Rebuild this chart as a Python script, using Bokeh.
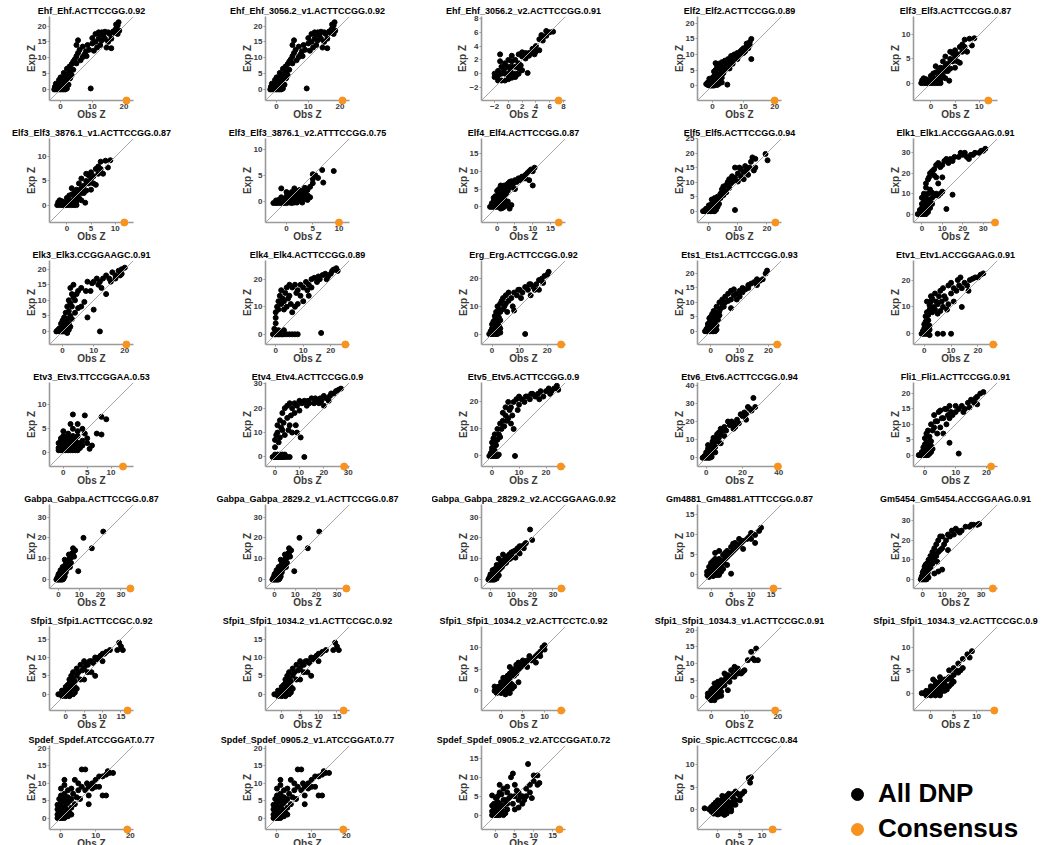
import math
from bokeh.plotting import figure
from bokeh.layouts import column, row
from bokeh.models import Slope, FixedTicker, Range1d, Legend, LegendItem
from bokeh.embed import file_html
from bokeh.resources import INLINE

FONT = "Liberation Sans"

# ---------------- data ----------------
titles = [
    "Ehf_Ehf.ACTTCCGG.0.92", "Ehf_Ehf_3056.2_v1.ACTTCCGG.0.92", "Ehf_Ehf_3056.2_v2.ACTTCCGG.0.91",
    "Elf2_Elf2.ACTTCCGG.0.89", "Elf3_Elf3.ACTTCCGG.0.87",
    "Elf3_Elf3_3876.1_v1.ACTTCCGG.0.87", "Elf3_Elf3_3876.1_v2.ATTTCCGG.0.75", "Elf4_Elf4.ACTTCCGG.0.87",
    "Elf5_Elf5.ACTTCCGG.0.94", "Elk1_Elk1.ACCGGAAG.0.91",
    "Elk3_Elk3.CCGGAAGC.0.91", "Elk4_Elk4.ACTTCCGG.0.89", "Erg_Erg.ACTTCCGG.0.92",
    "Ets1_Ets1.ACTTCCGG.0.93", "Etv1_Etv1.ACCGGAAG.0.91",
    "Etv3_Etv3.TTCCGGAA.0.53", "Etv4_Etv4.ACTTCCGG.0.9", "Etv5_Etv5.ACTTCCGG.0.9",
    "Etv6_Etv6.ACTTCCGG.0.94", "Fli1_Fli1.ACTTCCGG.0.91",
    "Gabpa_Gabpa.ACTTCCGG.0.87", "Gabpa_Gabpa_2829.2_v1.ACTTCCGG.0.87", "Gabpa_Gabpa_2829.2_v2.ACCGGAAG.0.92",
    "Gm4881_Gm4881.ATTTCCGG.0.87", "Gm5454_Gm5454.ACCGGAAG.0.91",
    "Sfpi1_Sfpi1.ACTTCCGC.0.92", "Sfpi1_Sfpi1_1034.2_v1.ACTTCCGC.0.92", "Sfpi1_Sfpi1_1034.2_v2.ACTTCCTC.0.92",
    "Sfpi1_Sfpi1_1034.3_v1.ACTTCCGC.0.91", "Sfpi1_Sfpi1_1034.3_v2.ACTTCCGC.0.9",
    "Spdef_Spdef.ATCCGGAT.0.77", "Spdef_Spdef_0905.2_v1.ATCCGGAT.0.77", "Spdef_Spdef_0905.2_v2.ATCCGGAT.0.72",
    "Spic_Spic.ACTTCCGC.0.84",
]

consensus = [20.8, 20.8, 7.3, 20.0, 11.9,
             11.9, 10.0, 17.3, 22.9, 35.8,
             20.5, 25.3, 25.0, 23.0, 25.7,
             12.5, 28.3, 25.5, 39.5, 21.5,
             34.5, 34.5, 34.0, 15.6, 36.0,
             16.8, 16.8, 13.8, 19.2, 13.9,
             19.1, 19.1, 16.8, 12.4]

lims_lo = [-3.5, -3.5, -3.9, -4.8, -3.6,
           -3.6, -4.0, -4.4, -3.9, -4.1,
           -4.2, -3.7, -3.8, -4.6, -4.0,
           -2.9, -3.9, -3.9, -4.8, -3.7,
           -4.3, -4.3, -4.3, -3.4, -4.7,
           -4.4, -4.4, -4.5, -4.1, -3.8,
           -3.3, -3.3, -3.8, -4.6]
lims_hi = [23.0, 23.0, 8.3, 22.2, 13.8,
           13.8, 12.0, 19.2, 25.0, 37.0,
           22.8, 26.8, 26.6, 24.5, 27.3,
           14.7, 30.5, 27.2, 41.5, 23.6,
           36.0, 36.0, 36.0, 17.6, 38.4,
           18.4, 18.4, 14.8, 21.1, 14.6,
           20.9, 20.9, 18.4, 14.4]

x_step = [10, 10, 2, 10, 5, 5, 5, 5, 10, 10, 10, 10, 10, 10, 10, 5, 10, 10, 20, 10,
          10, 10, 10, 5, 10, 5, 5, 5, 10, 5, 10, 10, 5, 5]
y_step = [5, 5, 2, 5, 5, 5, 5, 5, 5, 10, 5, 10, 10, 5, 10, 5, 10, 10, 10, 5,
          10, 10, 10, 5, 10, 5, 5, 5, 5, 5, 5, 5, 5, 5]

ehf = [(-2,0),(-1.5,0),(-1,0),(-0.5,0),(0,0),(0.5,0),(1,0),(1.5,0),(2,0.3),(-1.8,0.8),(-1,0.8),(-0.5,0.5),(0,1),(0.5,1.5),(1,1),(1.5,2),(2,1.2),(2.5,1.5),(-1.5,1.8),(-0.8,1.8),(0,2.5),(0.5,3),(1,3.5),(1.5,4),(2,3.2),(2.5,5),(0,3.8),(1,5.2),(-0.5,3),(3,3.5),(3,5.5),(3.5,4.5),(2,6.5),(2.8,7.2),(3.5,8),(4,6.2),(4,8.8),(4.5,9.5),(5,8.2),(5,10.5),(5.5,11.5),(5.5,15.5),(5,14),(6,12.5),(6.3,9.2),(7,10.2),(7,13.5),(7.5,11),(8,12),(8.5,14),(8.2,10.5),(9,12.5),(9.5,0.3),(10,14.5),(10,16.2),(10.5,12.2),(11,15),(11,17.5),(12,16),(12,18),(12.5,14),(13,15.5),(13,18),(14,16),(14,18.2),(14.5,13.2),(15,15),(15,18),(16,13),(16,16),(16.5,18.2),(17,18.5),(17.5,19.2),(18,17.5),(18,20.2),(18.3,21.2),(17.5,20.5),(13.5,17),(11.5,13.2),(12.5,17.2),(15.5,17.5),(17,17.8),(18.5,18.5)]
ehf_v2 = [(-2,-0.5),(-1.5,-1),(-1,-1),(-0.5,-1),(0,-0.8),(0.5,-0.6),(1,-0.5),(-2,0),(-1.5,0.4),(-1,0),(-0.5,0),(0,0),(0.5,0),(1,0),(1.5,0),(-1,1),(-0.5,1.5),(0,1),(0.5,1),(1,1),(1.5,0.8),(2,0.5),(0,2),(0.5,1.8),(1,2),(-0.5,0.8),(0,-0.3),(1.2,-0.2),(1.5,1.5),(-1.5,-0.3),(-0.8,0.3),(0.3,0.5),(-1.2,1.8),(0.5,2.6),(1.5,2.8),(2,2.5),(2.5,3),(3,3),(3.5,3),(2,3.1),(3,2.6),(4,3.2),(4.5,3.4),(3.5,3.6),(4,4),(4.5,5),(5,5.2),(5.5,5.5),(5,4.8),(6,6),(6.5,6.1),(5.5,6.2),(4.8,5.6),(2.8,0.1),(-1.2,2.8),(1.8,1.2),(2.5,2.2),(3.8,2.8)]
elf2 = [(-2,0.5),(-1.5,0.2),(-1,0),(-0.5,0),(0,0),(0.5,0),(1,0.3),(1.5,0.2),(2,0.5),(-1.5,1),(-1,1.2),(-0.5,0.8),(0,1.5),(0.5,1.2),(1,1.5),(1.5,1.8),(2,2),(2.5,1.5),(3,1),(-1,2.2),(0,2.5),(0.5,3),(1,3.5),(1.5,3),(2,3.8),(2.5,3),(3,3.5),(0.5,4.5),(1,5),(1.5,6),(2,5.5),(2.5,6.5),(3,5),(3.5,6),(1,7.2),(2,7),(3,7.5),(3.5,4),(4,5),(4.5,7),(4,8),(5,6),(5,8.5),(5.5,7.5),(6,8),(6,9.5),(6.5,7),(7,8.5),(7,10),(7.5,9),(8,10.5),(8.5,9.5),(9,11),(9,10),(9.5,11.5),(10,10.5),(10,12),(10.5,11),(11,12.5),(11,13.5),(11.5,12),(12,14),(12.5,15),(12,13),(12.5,8.5),(4.8,0.3),(3,2.5),(5.5,5.5),(8,8.5)]
elf3 = [(-2,0),(-1.5,0),(-1,0),(-0.5,0),(0,0),(0.5,0),(1,0),(1.5,0),(2,0),(-1.8,0.6),(-1,0.8),(-0.5,0.5),(0,0.8),(0.5,1),(1,0.7),(1.5,1.2),(2,0.8),(-1.5,1),(0,1.5),(0.5,2),(1,2.2),(1.5,2.5),(2,2),(2.5,1.5),(3,1),(2.5,3),(2,3.2),(3,2.5),(3,3.5),(3.5,2.5),(3.5,4),(4,3),(4,5),(2.5,4.5),(3,5.5),(4.5,4.5),(4.5,6.2),(5,5.5),(5,6.8),(4,6.5),(5.5,4.5),(5.5,6),(6,7.5),(6.5,6.5),(6.5,8),(7,7.5),(7.5,6.5),(7,9),(8,9.2),(9,9.3),(8.5,7.8),(6,4.2),(3.8,0.5),(1,3.5),(5,3.2)]
elf3_v2 = [(-2.5,-0.3),(-2,-0.3),(-1.5,-0.3),(-1,-0.3),(-0.5,-0.3),(0,-0.3),(0.5,-0.2),(1,-0.3),(1.5,-0.2),(2,-0.2),(-2,0.2),(-1.5,0.3),(-1,0.2),(-0.5,0.5),(0,0.3),(0.5,0.5),(1,0.4),(1.5,0.6),(2,0.4),(2.5,0.3),(3,0.5),(-1,0.8),(0,1),(0.5,1.2),(1,1),(1.5,1.3),(2,1),(2.5,1.2),(3,1),(3.5,0.6),(-1,2.5),(0,1.8),(1,1.8),(2,2),(2.5,2.2),(3,2),(3.5,1.5),(4,2.2),(4,1.2),(4.5,0.8),(3.5,2.6),(4.5,2.8),(5,3.5),(5,4.3),(5.5,5),(5,5.2),(6,4.5),(6.8,6),(7,3.6),(9,5.8),(1.5,2.5),(3,-0.2),(4,0.3)]
elf4 = [(-2,0),(-1.5,0),(-1,0),(-0.5,0),(0,0),(0.5,0),(1,0),(1.5,-0.3),(2,0),(-1.5,1),(-1,1.5),(-0.5,1),(0,1.5),(0.5,2),(1,1.2),(1.5,1),(2,1.5),(-1,2.5),(-0.5,3),(0,3),(0.5,3.5),(1,2.5),(1.5,3),(2,2.5),(0,4.5),(0.5,5),(1,4),(1.5,5),(2,4.2),(2.5,3.5),(3,4.5),(1,6),(2,6),(2.5,5.5),(3,6.5),(3.5,6),(3.5,7),(4,5.5),(4,7.2),(4.5,6.5),(5,7.5),(5.5,7),(6,8),(6.5,7.5),(7,8.5),(7.5,8),(8,9),(8.5,9.5),(9,10),(9.5,10.5),(10,10),(10.5,11),(8,8),(9,7.5),(10,6),(3,1.5),(4,0.5),(3.5,-0.5),(2.5,0.5),(5,5),(1,-0.5)]
elf5 = [(-2,0),(-1.5,0),(-1,0),(-0.5,0),(0,0),(0.5,0),(1,0),(1.5,0),(2,0),(-1,0.8),(0,1),(0.5,1.5),(1,1),(1.5,1.8),(2,1.2),(2.5,0.5),(0,2),(1,2.5),(2,2.8),(2.5,2),(3,1.5),(1,4),(2,4.5),(3,3.5),(3,5),(4,4.5),(4,6),(4.5,7.5),(5,5.5),(5,8.5),(5.5,7),(6,6.5),(6,9),(6.5,10),(7,8),(7,11),(7.5,9.5),(8,10),(8,12),(8.5,10.5),(9,11.5),(9,15),(10,13),(10,10.2),(10.5,15),(11,12),(11,14.5),(12,13.5),(12,11),(12.5,15.5),(13,14),(13.5,12.5),(14,15),(14.5,17),(15,18.5),(15.5,14),(16,18),(19.5,19.7),(20.2,17.5),(9,0.4),(3.5,2.5),(16,15)]
elk1 = [(-2,0),(-1,0),(0,0),(1,0),(2,0),(-1,2),(0,3),(1,2),(2,3),(3,1),(0,5),(1,6),(2,5),(3,4),(4,3),(0,8),(1,9),(2,8),(3,7),(4,6),(5,5),(1,10),(3,10),(5,8),(6,9),(7,10),(8,9),(9,10),(10,11),(5,10.5),(2,13),(2,15),(3,17),(3.5,18),(4,20),(5,21),(6,22),(6,19),(7,24),(8,25),(9,23),(10,24),(11,26),(12,27),(13,25),(14,27),(15,26),(16,28),(18,28),(19,30),(20,29),(21,30),(22,28),(23,27),(24,29),(25,29),(26,30),(28,30),(29,31),(30,31),(31,32),(10,18),(7,18),(12,2.5),(15,9.5),(4,12),(8,15)]
elk3 = [(-2,0),(-1.5,0.5),(-1,0),(-0.5,0),(0,0),(0.5,0),(1,0),(1.5,-0.5),(-1,1),(0,1.5),(0.5,1),(1,2),(1.5,1),(2,0.5),(-0.5,2.5),(0,3.5),(0.5,4.5),(1,3),(1.5,4),(2,2.5),(2.5,1.5),(1,6),(1.5,8),(2,6.5),(2.5,5),(3,4),(2,10),(2.5,9),(3,12),(3.5,11),(3,8),(4,10),(4,6),(2.5,14),(3.5,15),(4.5,12),(5,13),(5,7.5),(6,8),(6,14),(7,9.5),(7.5,13),(8,16),(8,4.5),(9,13),(9.5,15.5),(10,16),(10,7),(11,17),(11.5,15),(12,16),(12,0),(12.5,14),(13,17),(14,18),(14,12),(15,17),(15.5,16),(16,19),(17,18),(18,19.5),(18.5,18),(19,20),(20,20.5),(19,18.5),(17,17)]
elk4 = [(-1,0),(-0.5,0),(0,0),(0.5,0),(1,0),(1.5,0),(2,0),(2.5,0),(3,0),(4,0),(5,0),(6,0),(7,0),(8,0),(0,1),(1,1.5),(2,1),(3,1.5),(-0.5,2),(0,4),(0,6),(0,8),(0.5,10),(1,12),(1,9),(1.5,14),(2,11),(2,16),(2.5,13),(3,9),(3,12),(3.5,15),(4,10),(4,17),(4.5,13),(5,14),(5,18),(5.5,11),(6,17),(6,8),(7,18),(7,10),(7.5,15),(8,16),(8,11),(9,18),(9,14),(10,17),(10,12),(11,19),(11.5,16),(12,18),(13,20),(13,17),(14,20.5),(15,19),(15.5,21),(16,20),(17,21.5),(18,22),(18.5,20),(19,21),(20,22),(20.5,23),(21,23.5),(22,24),(22.5,23),(16.5,0.5),(12,14)]
erg = [(-1,0),(-0.5,0),(0,0),(0.5,0),(1,0),(1.5,0),(2,0),(-0.5,1),(0,2),(0.5,1.5),(1,2.5),(1.5,1.5),(2,2),(2.5,1),(3,0.5),(0,3.5),(0.5,4.5),(1,5),(1.5,3.5),(2,4),(2.5,3),(3,2),(1,6.5),(1.5,8),(2,7),(2.5,6),(3,5),(2,10),(2.5,9),(3,8),(3,11),(3.5,12),(4,9),(4,13),(4.5,10),(5,11),(5,14),(5.5,8),(6,12),(6,15),(7,13),(7.5,10),(8,15),(8,8.5),(9,14),(9.5,16),(10,16),(10.5,13),(11,15),(12,17),(12,0),(13,16),(13.5,18),(14,18),(15,17),(15.5,16),(16,18),(17,19.5),(18,20),(18.5,18.5),(19,21),(20,21.5),(20.5,22.5),(17,16),(14,14)]
ets1 = [(-2,0),(-1.5,0),(-1,0),(-0.5,0),(0,0),(0.5,0),(1,0),(1.5,0),(-1.5,0.8),(-1,1.5),(-0.5,1),(0,1.5),(0.5,2),(1,1),(1.5,1.5),(2,0.5),(-1,2.5),(-0.5,3),(0,3),(0.5,4),(1,2.5),(1.5,3.5),(2,2),(-0.5,4.5),(0,5),(0.5,6),(1,7),(1.5,5),(2,6.5),(2.5,4),(3,5.5),(2,8.5),(3,7),(3,10),(3.5,8),(4,9.5),(4,11),(4.5,8.5),(5,10),(5,12),(6,10.5),(6,13),(7,11),(7,14),(8,12.5),(8,14.5),(9,13),(9,11),(10,14),(10,12),(11,15),(11,13.5),(12,14.5),(13,15),(13,16),(14,16.5),(15,17),(16,18),(16,16),(17,17.5),(18,18),(19,20),(19.5,21),(7,8)]
etv1 = [(-1,0),(-0.5,0),(0,0),(0.5,0),(1,0),(1.5,0),(2,-0.5),(-0.5,1),(0,2),(0.5,1.5),(1,2.5),(1.5,1),(2,1.5),(0,3.5),(0.5,4.5),(1,3.5),(1.5,5),(2,3),(0.5,6.5),(1,8),(1.5,7),(2,9),(2,10.5),(1,12),(2.5,12),(2.5,14),(3,8),(3,13),(3.5,10),(4,9),(4,15),(4.5,12),(5,7.5),(5,11),(5.5,14),(6,8.5),(6,16),(6.5,12),(7,10),(7,17),(7.5,14),(8,13),(8.5,9),(9,18),(9,11),(10,15),(10,19),(11,12),(11,17),(12,16),(12.5,20),(13,18),(13.5,21),(14,17),(15,19),(16,18),(16.5,16),(17,20),(18,20.5),(19,21),(20,21),(21,22),(22,22.5),(5,0),(7,0),(10,0),(14,10)]
etv3 = [(-1,0.5),(-0.5,0.5),(0,0.5),(0.5,0.5),(1,0.5),(1.5,0.5),(2,0.5),(2.5,0.5),(3,0.5),(-1,1),(-0.5,1.5),(0,1),(0.5,1.5),(1,1),(1.5,1.5),(2,1),(2.5,1.5),(3,1),(3.5,1),(-1,2),(-0.5,2.5),(0,2),(0.5,2.5),(1,2),(1.5,2.5),(2,2),(2.5,2.5),(3,2),(3.5,2),(4,1.5),(-0.5,3),(0,3.5),(0.5,3),(1,3.5),(1.5,3),(2,3.5),(2.5,3),(3,3.5),(4,2.5),(0,4.5),(1,4),(2,5),(3,4.5),(4,5),(2,8),(1.5,6),(3,6),(5,3),(5,2),(5.5,0.8),(6,1.5),(4.5,4),(7,4),(8,3.8),(8,7.5),(9,7),(4.5,7.8)]
etv4 = [(-1,0),(-0.5,0),(0,0),(0.5,0),(1,0),(1.5,0),(2,0),(2.5,0),(3,0),(3.5,0),(4,0),(5,0),(6,0),(0,1),(1,1),(2,1),(3,1),(4,1),(0,4),(0,7),(0.5,9),(1,10),(1,13),(1.5,6),(2,8),(2,15),(2.5,12),(3,11),(3,18),(3.5,14),(4,20),(4,9),(5,16),(5,21),(5.5,11),(6,13),(6,22),(6.5,17),(7,10),(7,20),(8,18),(8,22),(8.5,13),(9,21),(9,10),(10,23),(10,19),(10.5,8),(11,22),(12,23),(12,0),(13,21),(13.5,23),(14,22),(15,24),(16,22),(16.5,24),(17,23),(18,22),(18.5,24),(19,23),(20,25),(21,24),(22,23),(22.5,25),(23,26),(24,26),(25,27),(26,27.5),(27,28),(20,21)]
etv5 = [(-1,0),(-0.5,0),(0,0),(0.5,0),(1,0),(1.5,0),(2,0),(2.5,0.5),(-0.5,1),(0,2),(0.5,1.5),(1,2),(0,3),(0,5),(0.5,6.5),(1,8),(1,5),(1.5,4),(2,10),(2,6),(2.5,8),(3,12),(3,7),(3.5,10),(4,13),(4,16),(4.5,11),(5,15),(5,18),(5.5,13),(6,14),(6,20),(6.5,17),(7,12),(7,18),(7.5,15),(8,20),(8,10),(8.5,0),(9,21),(9.5,17),(10,19),(10,22),(11,21),(12,20),(12.5,22),(13,22),(14,21),(14.5,23),(15,23),(16,22),(17,23),(17.5,21),(18,24),(19,22),(20,24),(21,25),(21.5,23),(22,24),(23,25),(24,26),(24.5,24.5)]
etv6 = [(-2,0),(-1,0),(0,0),(1,0),(2,0),(-1,1),(0,1.5),(1,1),(2,1.5),(3,0.5),(0,3),(1,2.5),(2,3),(3,2),(1,5),(2,6),(2.5,4),(3,7),(3,5),(3.5,9),(4,8),(4,11),(5,10),(5,6),(6,9),(6,13),(7,14),(7,11),(8,13),(8,16),(9,15),(10,17),(10,12),(11,15),(12,20),(13,18),(14,20),(15,19),(15,16),(16,17),(17,21),(18,19),(19,24),(20,23),(21,25),(22,24),(22,21),(23,28),(24,27),(25,26),(26,33),(27,28),(5,3),(8,8),(1,7)]
fli1 = [(-2,0),(-1.5,0),(-1,0),(-0.5,0),(0,0),(0.5,0),(1,0),(1.5,0.5),(-1,1),(0,1.5),(0.5,1),(1,2),(1.5,1.5),(2,1),(-0.5,2.5),(0,3.5),(0.5,4),(1,3),(1.5,4.5),(2,3),(2.5,2),(0,5.5),(0.5,7),(1,8),(1.5,6),(2,10),(2,4.5),(2.5,8),(3,9),(3,13),(3.5,11),(4,7),(4,11),(4.5,14),(5,9),(5,14.5),(5.5,12),(6,12),(6,7),(6.5,15),(7,10),(7,15),(7.5,13),(8,12),(8,16),(8.5,14),(9,13),(10,14),(10,16),(11,15),(11,0.5),(12,16),(12.5,14),(13,15),(14,17),(14.5,15.5),(15,18),(16,17),(16.5,18.5),(17,19),(18,20),(19,20.5),(8,4),(17,16.5)]
gabpa = [(-1,0),(-0.5,0),(0,0),(0.5,0),(1,0),(1.5,0),(2,0),(2.5,0.5),(-0.5,1),(0,1.5),(0.5,1),(1,2),(1.5,1.5),(2,1),(3,1.5),(0,2.5),(0.5,3),(1,3.5),(1.5,2.5),(2,3),(2.5,2.5),(3,3),(1,4.5),(2,4),(2.5,5),(3,4.5),(3.5,3.5),(4,5),(2,6),(3,6.5),(3.5,7.5),(4,8),(4,6),(4.5,9),(5,7),(5,9.5),(5.5,10),(5,12),(6,10.5),(6,8),(6.5,12.5),(7,13),(7,15),(8,14),(7.5,11),(9.5,4),(12,20),(16,15),(21.5,23),(3,9.5),(5.5,6)]
gabpa_v2 = [(-1,0),(-0.5,0),(0,0),(0.5,0),(1,0),(1.5,0),(2,0),(3,0.5),(-0.5,1),(0,1.5),(0.5,1),(1,2),(1.5,1.5),(2,1),(2.5,2),(3,1.5),(0,2.5),(1,3),(1.5,3.5),(2,2.5),(2.5,3.5),(3,3),(4,2),(1,4.5),(2,5),(3,5),(3.5,4),(4,6.5),(4.5,5),(3,7),(5,8),(5.5,6),(4,10),(6,9),(6,12),(6.5,7.5),(7,10),(7.5,8),(8,11),(8.5,9.5),(9,12),(9.5,10),(10,13),(10.5,11),(11,13.5),(12,14),(12,10.5),(13,15),(13.5,13),(14,16),(14,12.5),(15,16),(16,15),(16.5,17),(17,17.5),(19,24),(20,19)]
gm4881 = [(-1,0),(-0.5,-0.5),(0,0),(0.5,-0.3),(1,0),(1.5,0),(2,0),(-1,0.8),(-0.5,1),(0,1.5),(0.5,1),(1,1.5),(1.5,1),(2,1.5),(2.5,0.8),(-0.5,2),(0,2.5),(0.5,2),(1,2.5),(1.5,2),(2,2.5),(2.5,2),(3,1.5),(0,3),(0.5,3.5),(1,4),(1.5,3),(2,4),(2.5,3.5),(3,3),(3,5),(3.5,4),(1,5.5),(2,6),(3.5,5.5),(4,4.5),(4,6),(4.5,5),(5,5.5),(5,7),(5.5,6),(5.5,7.8),(6,6.5),(6,8),(6.5,7),(7,7.5),(7,9),(7.5,8),(8,8.5),(8,6.5),(9,9),(9.5,9.5),(10,9),(10,10.5),(11,8),(11,10),(12,11),(12.5,11.8),(5,0.3),(4,2.5)]
gm5454 = [(-1,0),(-0.5,0),(0,0),(0.5,0),(1,0),(1.5,0),(2,0),(-0.5,1.5),(0,2),(0.5,1.5),(1,2.5),(1.5,1.5),(2,2),(3,1),(0,3.5),(0.5,4.5),(1,4),(1.5,5),(2,3.5),(2.5,3),(3,4.5),(1,6.5),(1.5,7.5),(2,8),(2.5,6),(3,10),(3,7),(3.5,9),(4,12),(4,6),(4.5,10),(5,14),(5,8),(5.5,11),(6,10),(6,16),(6.5,13),(7,18),(7,12),(7.5,9),(8,20),(8,14),(8,4),(9,22),(9,15),(10,16),(10,22),(10,5),(11,18),(12,20),(13,15),(13,23),(14,22),(15,25),(16,23),(17,26),(18,25),(19,24),(20,25),(22,27),(24,27),(25,28),(26,28),(28,28),(29,28.5),(6,3)]
sfpi1 = [(-2,0),(-1.5,0),(-1,0),(-0.5,0),(0,0),(0.5,0),(1,0),(1.5,0),(2,0),(-1,-0.5),(0,-0.5),(1,-0.5),(-1,1),(-0.5,0.8),(0,1),(0.5,1.5),(1,1),(1.5,1.5),(2,1),(2.5,0.5),(0,2),(0.5,2.5),(1,3),(1.5,2),(2,2.5),(2.5,2),(1,4),(1.5,5),(2,4),(2,6),(2.5,3.5),(3,5),(3,7),(3,1.5),(3.5,6),(4,4),(4,8),(4.5,6.5),(5,7),(5,9),(5,4),(5.5,8),(6,8),(6,6),(6.5,9),(7,9),(7,6),(7.5,8.5),(8,10),(8,5),(8.5,9.5),(9,10),(9.5,10.5),(10,11),(10,9),(10.5,11),(11,11.5),(12,12),(14,12),(14.5,14),(15,13),(15.5,12)]
sfpi1_2v2 = [(-1.5,0),(-1,0),(-0.5,0),(0,0),(0.5,0),(1,0),(1.5,0),(2,-0.5),(-1,-0.5),(0,-0.5),(1,-0.8),(-1,0.8),(-0.5,1),(0,1),(0.5,0.8),(1,1),(1.5,1),(2,1),(2.5,0.5),(0,2),(0.5,1.5),(1,2),(1.5,2.5),(2,2),(2.5,1.5),(3,1),(0.5,3),(1,3),(1.5,3.5),(2,4),(2,3),(2.5,4.5),(3,3.5),(3,5),(3.5,4),(2,5.5),(3.5,6),(4,5),(4,6.5),(4.5,5.5),(5,6),(5,7),(5.5,6.5),(6,7),(6,5.5),(6.5,8),(7,7),(7.5,7.5),(8,8),(8,6.5),(8.5,8.5),(9,9),(9,8),(9.5,10),(10,9.5),(10,10.5),(4,2),(-1.5,1)]
sfpi1_3v1 = [(-1,0),(-0.5,-0.5),(0,0),(0.5,-0.5),(1,0),(1.5,0),(2,0),(0,-1),(1,-1),(-1,1),(-0.5,0.8),(0,1),(0.5,1.5),(1,1),(1.5,1.5),(2,1),(2.5,0.5),(3,0.3),(0,2),(0.5,2.5),(1,2),(1.5,3),(2,2.5),(2.5,2),(3,1.5),(1,4),(1.5,3.5),(2,4.5),(2.5,3.5),(3,3),(3,5),(3.5,4),(4,3.5),(4,5),(4,7),(4.5,6),(5,5),(5,6.5),(5.5,4.5),(6,6),(6,8),(6.5,6.5),(7,6),(7,9),(7.5,7.5),(8,7),(8,8.5),(9,7),(9.5,7.5),(10,8),(11,11),(12,13.5),(12.5,11.5),(13,11),(13.5,14.5),(14,11),(5,2)]
sfpi1_3v2 = [(-2,0),(-1.5,0),(-1,0),(-0.5,0),(0,0),(0.5,0),(1,0),(1.5,0),(2,0),(-1,-0.5),(0,-0.5),(1,-0.5),(2,-0.5),(-1,0.5),(0,0.8),(0.5,0.5),(1,1),(1.5,0.5),(2,0.8),(2.5,0.5),(3,0.5),(0,1.5),(0.5,1.2),(1,1.8),(1.5,1.5),(2,1.5),(2.5,1.2),(3,1),(3.5,0.8),(1,2.5),(1.5,2.2),(2,2.5),(2.5,2),(3,2),(3.5,1.5),(4,1.5),(4.5,2),(2,3.5),(3,3),(3.5,3),(4,3.5),(4.5,3),(5,2.5),(5,4),(4,5),(5.5,5),(5,5.5),(6,4.5),(6,6.5),(6.5,5),(7,7.5),(7,5.5),(8,8.5),(8.5,7.8),(9,9.2),(0.5,3)]
spdef = [(-1,0),(-0.5,0),(0,0),(0.5,0),(1,0),(1.5,0.5),(-1,1),(-0.5,1.5),(0,1),(0.5,2),(1,1.5),(1.5,1),(2,0.5),(-1,2.5),(-0.5,3),(0,3.5),(0.5,3),(1,3),(1.5,2.5),(2,2),(2.5,1.5),(3,1),(-1,3.8),(0,4.5),(0.5,5),(1,5),(1.5,4),(2,4.5),(3,3),(-0.5,5.5),(0,6.5),(0.5,6),(1,7),(1.5,6),(2,6),(2.5,5),(0,8.5),(1,9.5),(1,11),(2,8),(3,5.5),(3,8.5),(3.5,7),(4,11),(4,4),(4.5,6),(5,8),(5,10),(5.5,5.5),(6,14),(6,9),(7,8),(7,14),(7.5,10),(8,9),(8,6.5),(8,4),(9,10),(9,8.5),(10,9),(10,11),(11,9),(11,12),(12,12),(12,6.5),(13,12.5),(13,6.5),(13.5,13.5),(14,13),(15,13)]
spdef_v2 = [(-1,0),(-0.5,0),(0,0),(0.5,0),(1,0),(1.5,0.5),(2,0),(-1,1),(-0.5,1.5),(0,1),(0.5,2),(1,1.5),(1.5,1),(2,1),(2.5,0.5),(-1,2.5),(-0.5,3),(0,2.5),(0.5,3.5),(1,3),(1.5,2.5),(2,2.5),(3,1.5),(-1,5.2),(0,4.5),(0.5,5),(1,6),(1,8),(1.5,5.5),(2,7),(2,4),(2.5,4),(3,3),(3,6),(3.5,4.5),(4,5),(4,10),(4.5,11),(4.5,3),(5,5),(5,8),(5,1.5),(5.5,6.5),(6,4),(6,2),(6,6),(6.5,5),(7,5),(7,3),(7.5,4),(8,5),(8,7),(8.5,13.5),(9,6),(9,8),(9.5,4.5),(10,10.5),(10,9),(11,10.5),(11,8),(11.5,8.5),(3,7.5)]
spic = [(-2,0),(-1.5,0),(-1,0),(-0.5,0),(0,0),(0.5,0),(1,0),(1.5,0),(2,0),(-1.5,-0.5),(-1,-1),(-0.5,-1),(0,-1.2),(0.5,-1),(1,-1),(1.5,-1.3),(2,-1),(-1.5,0.5),(-1,1),(-0.5,0.8),(0,1),(0.5,1.2),(1,0.8),(1.5,1),(2,1),(2.5,0.5),(3,0),(-0.5,1.5),(0,2),(0.5,1.8),(1,2),(1.5,2),(2,2.2),(2.5,1.5),(3,1.5),(3.5,1),(4,1),(1,3),(1.5,2.8),(2,3),(2.5,3.5),(3,3),(3.5,2.5),(3.5,3.5),(4,4),(4.5,3.5),(4,2),(5,3),(5,2),(5.5,3.5),(6,4),(3,-0.5),(7,7),(7.5,7.2),(7.3,6),(-3,0.2)]

panel_points = [ehf, ehf, ehf_v2, elf2, elf3,
                elf3, elf3_v2, elf4, elf5, elk1,
                elk3, elk4, erg, ets1, etv1,
                etv3, etv4, etv5, etv6, fli1,
                gabpa, gabpa, gabpa_v2, gm4881, gm5454,
                sfpi1, sfpi1, sfpi1_2v2, sfpi1_3v1, sfpi1_3v2,
                spdef, spdef, spdef_v2, spic]

legend_labels = ["All DNP", "Consensus"]

# ---------------- styling ----------------
DOT = "black"
ORANGE = "#F7931E"
AXIS_GREY = "#9a9a9a"
TEXT_GREY = "#3a3a3a"
TOTAL_W = 1042
FRAME = 84
LEFT = 49


def ticks_for(lo, hi, step):
    return [k * step for k in range(math.ceil(lo / step), math.floor(hi / step) + 1)]


def make_panel(i, right_border, last_row):
    lo, hi = lims_lo[i], lims_hi[i]
    p = figure(frame_width=FRAME, frame_height=FRAME,
               min_border_left=LEFT, min_border_right=right_border,
               min_border_top=13 if last_row else 16,
               min_border_bottom=21,
               x_range=Range1d(lo, hi), y_range=Range1d(lo, hi),
               output_backend="svg", toolbar_location=None, tools="",
               title=titles[i])
    p.title.align = "center"
    p.title.text_font = FONT
    p.title.text_font_style = "bold"
    p.title.text_font_size = "9px"
    p.title.text_color = "black"
    p.title.standoff = 1
    p.title.offset = 0
    p.outline_line_color = None
    p.grid.visible = False
    p.background_fill_color = "white"
    p.border_fill_color = "white"

    p.xaxis.ticker = FixedTicker(ticks=ticks_for(lo, hi, x_step[i]))
    p.yaxis.ticker = FixedTicker(ticks=ticks_for(lo, hi, y_step[i]))
    p.xaxis.axis_label = "Obs Z"
    p.yaxis.axis_label = "Exp Z"
    for ax in (p.xaxis[0], p.yaxis[0]):
        ax.axis_line_color = AXIS_GREY
        ax.axis_line_width = 1.6
        ax.major_tick_line_color = AXIS_GREY
        ax.major_tick_out = 2
        ax.major_tick_in = 0
        ax.minor_tick_line_color = None
        ax.major_label_standoff = 1
        ax.major_label_text_font = FONT
        ax.major_label_text_font_style = "bold"
        ax.major_label_text_font_size = "8px"
        ax.major_label_text_color = TEXT_GREY
        ax.axis_label_text_font = FONT
        ax.axis_label_text_font_style = "bold"
        ax.axis_label_text_font_size = "10px"
        ax.axis_label_text_color = TEXT_GREY
    p.xaxis[0].axis_label_standoff = -3
    p.yaxis[0].axis_label_standoff = -2

    p.add_layout(Slope(gradient=1, y_intercept=0, line_color="#a8a8a8", line_width=1))

    xs = [pt[0] for pt in panel_points[i]]
    ys = [pt[1] for pt in panel_points[i]]
    p.scatter(xs, ys, size=5, color=DOT)
    p.scatter([consensus[i]], [lo], size=7, color=ORANGE, level="overlay")
    return p


def legend_box(width, height, label, color, sample_x, sample_y):
    """A small axis-less figure that only carries one legend entry."""
    f = figure(frame_width=width, frame_height=height, min_border=0,
               x_range=Range1d(0, 1), y_range=Range1d(0, 1),
               x_axis_location=None, y_axis_location=None,
               output_backend="svg", toolbar_location=None, tools="")
    f.outline_line_color = None
    f.grid.visible = False
    r = f.scatter([sample_x], [sample_y], size=7, color=color, visible=False)
    lg = Legend(items=[LegendItem(label=label, renderers=[r])],
                location="bottom_left", orientation="vertical",
                glyph_width=30, glyph_height=30, label_height=30,
                padding=0, margin=0, label_standoff=6,
                border_line_color=None, background_fill_alpha=0,
                label_text_font=FONT, label_text_font_style="bold",
                label_text_font_size="26px", label_text_color="black",
                click_policy="none")
    f.add_layout(lg)
    return f


col_w = [216, 216, 216, 216, TOTAL_W - 4 * 216]
SPIC_W = 194
ROW7_H = 13 + FRAME + 21

rows = []
n = len(titles)
for r in range(7):
    figs = []
    last_row = (r == 6)
    for c in range(5):
        i = r * 5 + c
        if i >= n:
            break
        w = SPIC_W if (last_row and i == n - 1) else col_w[c]
        figs.append(make_panel(i, w - LEFT - FRAME, last_row))
    if last_row:
        leg_w = TOTAL_W - sum(col_w[:3]) - SPIC_W
        box_all = legend_box(leg_w, 77, legend_labels[0], DOT, spic[0][0], spic[0][1])
        box_cons = legend_box(leg_w, 35, legend_labels[1], ORANGE, consensus[-1], lims_lo[-1])
        figs.append(column(box_all, box_cons, spacing=0))
    rows.append(row(*figs, spacing=0))

layout = column(*rows, spacing=0)

open("out.html", "w").write(file_html(layout, INLINE))
